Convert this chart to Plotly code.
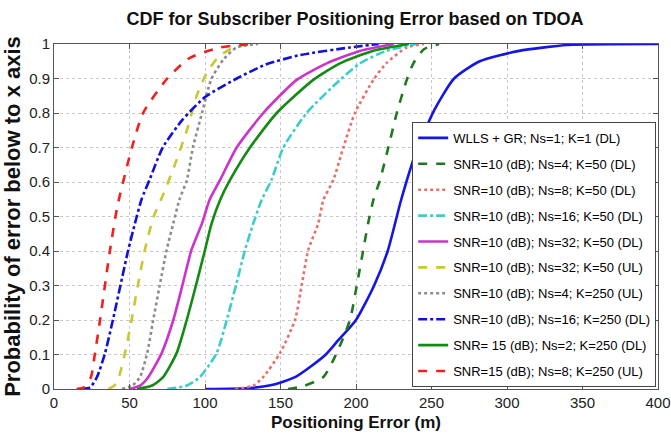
import plotly.graph_objects as go

# ── Data ──────────────────────────────────────────────────────────────────────

labels = [
    "WLLS + GR; Ns=1; K=1 (DL)",
    "SNR=10 (dB); Ns=4; K=50 (DL)",
    "SNR=10 (dB); Ns=8; K=50 (DL)",
    "SNR=10 (dB); Ns=16; K=50 (DL)",
    "SNR=10 (dB); Ns=32; K=50 (DL)",
    "SNR=10 (dB); Ns=32; K=50 (UL)",
    "SNR=10 (dB); Ns=4; K=250 (UL)",
    "SNR=10 (dB); Ns=16; K=250 (DL)",
    "SNR= 15 (dB); Ns=2; K=250 (DL)",
    "SNR=15 (dB); Ns=8; K=250 (UL)",
]

wlls_x = [100, 130, 145, 160, 170, 180, 188, 200, 212, 221, 230, 240, 252, 265, 282, 308, 340, 400]
wlls_y = [0, 0.003, 0.012, 0.035, 0.065, 0.1, 0.14, 0.2, 0.3, 0.4, 0.55, 0.69, 0.81, 0.9, 0.95, 0.98, 0.997, 1.0]

ns4_dl_x = [155, 165, 178.4, 187.2, 196, 200.5, 204.8, 208, 211.5, 215.9, 221.4, 227, 233.6, 238, 245, 255]
ns4_dl_y = [0, 0.008, 0.035, 0.104, 0.2, 0.3, 0.403, 0.48, 0.548, 0.606, 0.70, 0.80, 0.896, 0.944, 0.985, 1.0]

ns8_dl_x = [120, 132, 138.6, 149.7, 159.6, 164, 168.4, 175, 178.4, 185, 191.6, 199.3, 211.5, 220, 233.6, 245]
ns8_dl_y = [0, 0.01, 0.035, 0.104, 0.2, 0.3, 0.403, 0.48, 0.548, 0.606, 0.70, 0.80, 0.896, 0.944, 0.99, 1.0]

ns16_dl_x = [75, 88, 96.7, 107.7, 114.4, 120.5, 126.5, 132, 137.5, 144, 151.9, 167.3, 189.4, 202.6, 220, 240]
ns16_dl_y = [0, 0.01, 0.035, 0.104, 0.2, 0.3, 0.403, 0.48, 0.548, 0.606, 0.70, 0.80, 0.896, 0.944, 0.98, 1.0]

ns32_dl_x = [50, 57, 62.5, 71.3, 79, 85, 91, 98, 103, 110, 121, 138.6, 160.7, 180.6, 202.6, 225]
ns32_dl_y = [0, 0.01, 0.035, 0.104, 0.2, 0.3, 0.403, 0.48, 0.548, 0.606, 0.70, 0.80, 0.896, 0.944, 0.98, 1.0]

ns32_ul_x = [36, 40, 43, 47, 51.4, 55.5, 60, 66, 72, 80, 88, 94.5, 101, 109, 119, 130]
ns32_ul_y = [0, 0.01, 0.035, 0.104, 0.2, 0.3, 0.40, 0.50, 0.56, 0.65, 0.75, 0.85, 0.915, 0.963, 0.99, 1.0]

ns4_ul_x = [45, 52, 57, 61.7, 65.7, 70, 74.6, 79, 83, 88, 92, 98, 104, 112, 121, 135]
ns4_ul_y = [0, 0.01, 0.035, 0.104, 0.2, 0.3, 0.403, 0.48, 0.548, 0.606, 0.70, 0.80, 0.896, 0.954, 0.99, 1.0]

ns16_k250_x = [18, 24, 28.5, 33.8, 39, 49, 53.6, 58, 63.6, 72, 85, 100, 121, 140, 163, 196, 215]
ns16_k250_y = [0, 0.005, 0.035, 0.104, 0.2, 0.40, 0.48, 0.55, 0.61, 0.70, 0.78, 0.846, 0.90, 0.94, 0.968, 0.99, 1.0]

ns2_k250_x = [55, 65, 72.4, 81.2, 87.9, 94, 100, 104.4, 110, 116.6, 129.8, 147.5, 171.7, 189.4, 211, 235]
ns2_k250_y = [0, 0.01, 0.035, 0.104, 0.2, 0.3, 0.403, 0.48, 0.548, 0.606, 0.70, 0.80, 0.896, 0.944, 0.98, 1.0]

ns8_k250_x = [15, 20, 24.5, 27, 30.5, 37, 42, 51.6, 59, 75, 90, 110, 130]
ns8_k250_y = [0, 0.005, 0.035, 0.10, 0.20, 0.40, 0.53, 0.70, 0.80, 0.90, 0.96, 0.99, 1.0]

xs = [wlls_x, ns4_dl_x, ns8_dl_x, ns16_dl_x, ns32_dl_x, ns32_ul_x, ns4_ul_x, ns16_k250_x, ns2_k250_x, ns8_k250_x]
ys = [wlls_y, ns4_dl_y, ns8_dl_y, ns16_dl_y, ns32_dl_y, ns32_ul_y, ns4_ul_y, ns16_k250_y, ns2_k250_y, ns8_k250_y]

colors = ["#1515e6", "#1f7a1f", "#e8706a", "#3ccccc", "#cc33cc",
          "#c8c832", "#8c8c8c", "#1010d8", "#148a14", "#f02020"]
dashes = ["solid", "dash", "dot", "dashdot", "solid",
          "dash", "dot", "dashdot", "solid", "dash"]

FONT = "Liberation Sans, Arial"

# ── Figure ────────────────────────────────────────────────────────────────────

fig = go.Figure()
for i, (name, x, y, c, d) in enumerate(zip(labels, xs, ys, colors, dashes)):
    fig.add_trace(go.Scatter(x=x, y=y, mode="lines", name=name, legendgroup=f"g{i}",
                             line=dict(color=c, width=2.6, dash=d, shape="spline", smoothing=0.6)))

axis_style = dict(showline=True, linecolor="#555555", linewidth=1, mirror="ticks",
                  ticks="inside", ticklen=5, tickcolor="#555555",
                  showgrid=True, gridcolor="#c8c8c8", griddash="dot", gridwidth=1,
                  zeroline=False, automargin=False,
                  tickfont=dict(family=FONT, size=15, color="#222222"))

fig.update_xaxes(range=[0, 400], dtick=50, **axis_style,
                 title=dict(text="<b>Positioning Error (m)</b>", standoff=6,
                            font=dict(family=FONT, size=17, color="#111111")))
fig.update_yaxes(range=[0, 1], dtick=0.1, **axis_style,
                 title=dict(text="<b>Probability of error below to x axis</b>", standoff=8,
                            font=dict(family=FONT, size=22, color="#111111")))

fig.update_layout(
    width=671, height=437,
    margin=dict(l=54, r=13, t=44, b=48, autoexpand=False),
    paper_bgcolor="white", plot_bgcolor="white",
    title=dict(text="<b>CDF for Subscriber Positioning Error based on TDOA</b>",
               x=0.529, xanchor="center", y=0.958, yanchor="middle",
               font=dict(family=FONT, size=18, color="#111111")),
    legend=dict(x=0.593, y=0.774, xanchor="left", yanchor="top",
                bgcolor="white", bordercolor="#444444", borderwidth=1,
                font=dict(family=FONT, size=13, color="#000000"),
                itemwidth=30, tracegroupgap=6),
    font=dict(family=FONT),
)

# the page body has a default 8px margin; drop it so the figure sits at (0, 0)
fig.write_html("out.html", config={"displayModeBar": False},
               post_script="document.body.style.margin = '0';")
